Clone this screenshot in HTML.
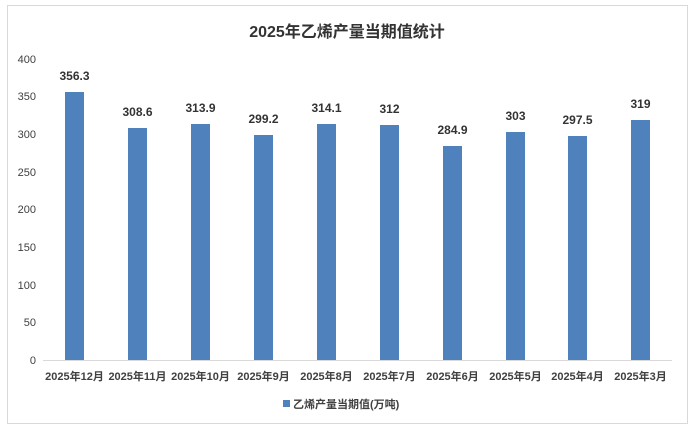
<!DOCTYPE html>
<html><head><meta charset="utf-8"><style>
body{margin:0;background:#fff;}
</style></head><body>
<svg width="695" height="432" xmlns="http://www.w3.org/2000/svg" font-family="Liberation Sans, Noto Sans CJK SC, sans-serif">
<rect x="0" y="0" width="695" height="432" fill="#fff"/>
<rect x="7.5" y="5.5" width="680" height="418" fill="#fff" stroke="#d9d9d9"/>
<text x="347" y="37" text-anchor="middle" font-size="16" font-weight="bold" fill="#333">2025年乙烯产量当期值统计</text>
<g font-size="11" fill="#404040" text-anchor="end">
<text x="36" y="364">0</text><text x="36" y="326">50</text><text x="36" y="289">100</text><text x="36" y="251">150</text><text x="36" y="213">200</text><text x="36" y="176">250</text><text x="36" y="138">300</text><text x="36" y="100">350</text><text x="36" y="63">400</text>
</g>
<line x1="43" y1="360.5" x2="672" y2="360.5" stroke="#d9d9d9"/>
<g fill="#4f81bd">
<rect x="65" y="92" width="19" height="268"/>
<rect x="128" y="128" width="19" height="232"/>
<rect x="191" y="124" width="19" height="236"/>
<rect x="254" y="135" width="19" height="225"/>
<rect x="317" y="124" width="19" height="236"/>
<rect x="380" y="125" width="19" height="235"/>
<rect x="443" y="146" width="19" height="214"/>
<rect x="506" y="132" width="19" height="228"/>
<rect x="568" y="136" width="19" height="224"/>
<rect x="631" y="120" width="19" height="240"/>
</g>
<g font-size="12" font-weight="bold" fill="#333" text-anchor="middle">
<text x="74.5" y="80">356.3</text><text x="137.5" y="116">308.6</text><text x="200.5" y="112">313.9</text><text x="263.5" y="123">299.2</text><text x="326.5" y="112">314.1</text><text x="389.5" y="113">312</text><text x="452.5" y="134">284.9</text><text x="515.5" y="120">303</text><text x="577.5" y="124">297.5</text><text x="640.5" y="108">319</text>
</g>
<g font-size="11" font-weight="bold" fill="#404040" text-anchor="middle">
<text x="74.5" y="380">2025年12月</text><text x="137.5" y="380">2025年11月</text><text x="200.5" y="380">2025年10月</text><text x="263.5" y="380">2025年9月</text><text x="326.5" y="380">2025年8月</text><text x="389.5" y="380">2025年7月</text><text x="452.5" y="380">2025年6月</text><text x="515.5" y="380">2025年5月</text><text x="577.5" y="380">2025年4月</text><text x="640.5" y="380">2025年3月</text>
</g>
<rect x="283" y="400" width="7" height="7" fill="#4f81bd"/>
<text x="293" y="408" font-size="11" font-weight="bold" fill="#404040">乙烯产量当期值(万吨)</text>
</svg>
</body></html>
